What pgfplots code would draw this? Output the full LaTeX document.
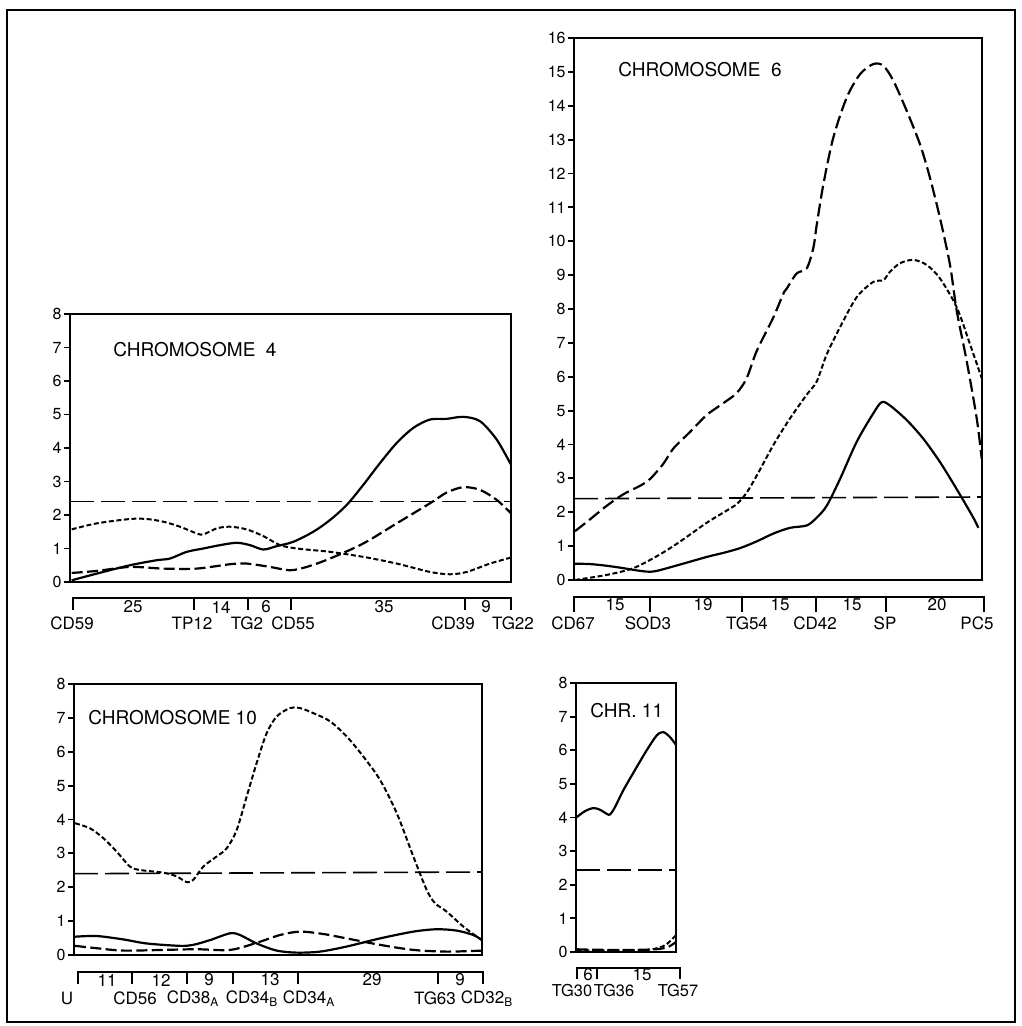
\documentclass[border=0pt]{standalone}
\usepackage{pgfplots}
\pgfplotsset{compat=1.18}
\usepackage{fontspec}
\setmainfont{TeX Gyre Heros}
\pgfplotsset{
 chr/.style={scale only axis, axis line style={line width=0.9pt}, ytick pos=left, ytick align=outside,
   xtick=\empty, major tick length=3pt, tick style={line width=0.9pt,black},
   yticklabel style={font=\fontsize{8}{9}\selectfont, inner sep=1pt},
   /pgf/number format/assume math mode=true, clip=false, ymin=0, anchor=south west},
 solidc/.style={black, line width=1.1pt, smooth, tension=0.5, mark=none},
 medc/.style={black, line width=1.1pt, dash pattern=on 5.5pt off 2.2pt, smooth, tension=0.5, mark=none},
 shortc/.style={black, line width=1pt, dash pattern=on 2.5pt off 1.3pt, smooth, tension=0.5, mark=none},
 thr/.style={black, line width=0.8pt, dash pattern=on 12pt off 3.5pt, mark=none},
}
\newcommand{\lab}{\fontsize{8.5}{10}\selectfont}
\newcommand{\ttl}{\fontsize{9.5}{11}\selectfont}
\begin{document}
\begin{tikzpicture}
\useasboundingbox (0,0) rectangle (510.5pt,513pt);
% ---------- Chromosome 4 ----------
\begin{axis}[chr, at={(35pt,222pt)}, width=220.5pt, height=134pt, xmin=70, xmax=511, ymax=8, ytick={0,1,...,8}]
\addplot[thr] coordinates {(70,2.4) (511,2.4)};
\addplot[solidc] coordinates {(71.7,0.05) (96.7,0.25) (130,0.5) (156.7,0.65) (170,0.7) (186.7,0.9) (203.3,1.0) (220,1.1) (236.7,1.17) (250,1.1) (263.3,0.97) (276.7,1.07) (293.3,1.2) (313.3,1.5) (330,1.85) (346.7,2.3) (363.3,2.9) (380,3.55) (396.7,4.15) (413.3,4.6) (430,4.85) (446.7,4.87) (463.3,4.93) (480,4.8) (496.7,4.25) (511,3.5)};
\addplot[shortc] coordinates {(71.7,1.57) (96.7,1.75) (130,1.88) (146.7,1.88) (163.3,1.8) (180,1.65) (196.7,1.45) (203.3,1.42) (216.7,1.6) (230,1.65) (246.7,1.57) (263.3,1.37) (280,1.1) (296.7,1.0) (313.3,0.95) (330,0.9) (363.3,0.75) (396.7,0.55) (430,0.3) (450,0.23) (466.7,0.3) (490,0.55) (511,0.73)};
\addplot[medc] coordinates {(71.7,0.27) (96.7,0.33) (130,0.45) (163.3,0.4) (196.7,0.4) (230,0.53) (246.7,0.55) (270,0.45) (290,0.35) (306.7,0.45) (330,0.7) (363.3,1.15) (396.7,1.75) (430,2.35) (446.7,2.67) (463.3,2.83) (480,2.75) (496.7,2.45) (511,2.05)};
\end{axis}
% ---------- Chromosome 6 ----------
\begin{axis}[chr, at={(287pt,223pt)}, width=204pt, height=271pt, xmin=574, xmax=982, ymax=16, ytick={0,1,...,16}]
\addplot[thr] coordinates {(574,2.4) (982,2.45)};
\addplot[solidc] coordinates {(575,0.48) (590,0.47) (606.7,0.42) (623.3,0.35) (640,0.27) (653.3,0.25) (673.3,0.4) (706.7,0.68) (723.3,0.8) (740,0.94) (756.7,1.14) (773.3,1.37) (790,1.54) (806.7,1.61) (816.7,1.84) (826.7,2.19) (840,2.98) (856.7,4.08) (873.3,4.92) (881.7,5.25) (890,5.15) (906.7,4.72) (923.3,4.17) (940,3.48) (956.7,2.68) (973.3,1.84) (978.3,1.54)};
\addplot[shortc] coordinates {(575,0) (606.7,0.15) (633.3,0.35) (656.7,0.7) (673.3,1.0) (690,1.34) (706.7,1.69) (723.3,1.99) (736.7,2.24) (746.7,2.58) (756.7,3.08) (773.3,3.98) (790,4.77) (806.7,5.47) (816.7,5.86) (826.7,6.66) (840,7.46) (856.7,8.35) (873.3,8.8) (883.3,8.85) (890,9.1) (900,9.35) (913.3,9.45) (926.7,9.3) (940,8.9) (956.7,8.05) (970,6.96) (981.7,5.96)};
\addplot[medc, dash pattern=on 6.5pt off 2.5pt] coordinates {(575,1.44) (590,1.79) (606.7,2.19) (623.3,2.53) (640,2.78) (650,2.98) (663.3,3.43) (673.3,3.88) (690,4.37) (706.7,4.87) (723.3,5.22) (736.7,5.52) (746.7,5.96) (756.7,6.76) (773.3,7.75) (783.3,8.45) (786.7,8.6) (796.7,9.05) (806.7,9.2) (813.3,9.8) (816.7,10.48) (823.3,11.67) (833.3,13.06) (846.7,14.24) (860,14.93) (873.3,15.23) (883.3,15.18) (893.3,14.74) (906.7,13.85) (920,12.86) (930,11.87) (940,10.68) (950,9.3) (956.7,7.95) (966.7,6.46) (976.7,4.77) (981.7,3.58)};
\end{axis}
% ---------- Chromosome 10 ----------
\begin{axis}[chr, at={(37pt,35.5pt)}, width=204pt, height=135.5pt, xmin=74, xmax=482, ymax=8, ytick={0,1,...,8}]
\addplot[thr] coordinates {(74,2.4) (482,2.45)};
\addplot[shortc] coordinates {(75,3.89) (90,3.74) (103.3,3.45) (116.7,3.05) (130,2.61) (140,2.51) (163.3,2.43) (176.7,2.32) (186.7,2.15) (193.3,2.22) (203.3,2.61) (216.7,2.91) (226.7,3.15) (236.7,3.69) (246.7,4.68) (256.7,5.67) (266.7,6.55) (276.7,7.04) (290,7.29) (300,7.29) (313.3,7.14) (330,6.9) (346.7,6.45) (363.3,5.86) (380,5.17) (396.7,4.19) (413.3,2.91) (426.7,1.92) (435,1.53) (446.7,1.28) (463.3,0.84) (481.7,0.44)};
\addplot[solidc] coordinates {(75,0.54) (96.7,0.56) (123.3,0.46) (146.7,0.34) (180,0.27) (193.3,0.3) (210,0.44) (230,0.64) (240,0.59) (256.7,0.34) (276.7,0.13) (296.7,0.07) (320,0.1) (346.7,0.25) (380,0.49) (413.3,0.69) (436.7,0.76) (456.7,0.72) (473.3,0.59) (482,0.44)};
\addplot[medc] coordinates {(75,0.27) (96.7,0.2) (123.3,0.13) (163.3,0.15) (196.7,0.17) (230,0.15) (256.7,0.36) (280,0.59) (300,0.69) (323.3,0.62) (346.7,0.49) (380,0.3) (413.3,0.15) (446.7,0.1) (482,0.13)};
\end{axis}
% ---------- Chromosome 11 ----------
\begin{axis}[chr, at={(288pt,37pt)}, width=50pt, height=134.5pt, xmin=576, xmax=676, ymax=8, ytick={0,1,...,8}]
\addplot[thr] coordinates {(576,2.43) (676,2.43)};
\addplot[solidc] coordinates {(576.7,4.01) (585,4.19) (593.3,4.28) (600,4.23) (606.7,4.11) (610,4.09) (615,4.31) (623.3,4.81) (636.7,5.5) (646.7,6.0) (656.7,6.44) (663.3,6.54) (670,6.39) (675.7,6.17)};
\addplot[shortc] coordinates {(576.7,0.05) (600,0.05) (630,0.05) (650,0.07) (665,0.2) (676,0.5)};
\addplot[medc] coordinates {(576.7,0.08) (620,0.06) (655,0.08) (668,0.15) (676,0.3)};
\end{axis}
% ---------- annotations in reference pixel units ----------
\begin{scope}[x=0.5pt, y=-0.5pt, shift={(0,513pt)}]
\draw[line width=1pt] (7,10) rectangle (1015,1022);
% titles
\node[anchor=west, inner sep=0pt, font=\ttl] at (113,350) {CHROMOSOME\ \ 4};
\node[anchor=west, inner sep=0pt, font=\ttl] at (618,70) {CHROMOSOME\ \ 6};
\node[anchor=west, inner sep=0pt, font=\ttl] at (88,718) {CHROMOSOME\ 10};
\node[anchor=west, inner sep=0pt, font=\ttl] at (590,711) {CHR.\ 11};
% chr4 scale
\draw[line width=0.9pt] (73,610) -- (73,598) -- (511,598) -- (511,610);
\foreach \t in {194,248,291,465} \draw[line width=0.9pt] (\t,598) -- (\t,610);
\foreach \x/\l in {133/25,221/14,266/6,384/35,486/9} \node[font=\lab, inner sep=0pt] at (\x,607) {\l};
\foreach \x/\l in {72/CD59,192/TP12,247/TG2,293/CD55,453/CD39,513/TG22} \node[font=\lab, inner sep=0pt] at (\x,623) {\l};
% chr6 scale
\draw[line width=0.9pt] (574,612) -- (574,597) -- (984,597) -- (984,612);
\foreach \t in {650,742,816,886} \draw[line width=0.9pt] (\t,597) -- (\t,612);
\foreach \x/\l in {615/15,703/19,780/15,852/15,937/20} \node[font=\lab, inner sep=0pt] at (\x,605) {\l};
\foreach \x/\l in {573/CD67,648/SOD3,747/TG54,815/CD42,885/SP,977/PC5} \node[font=\lab, inner sep=0pt] at (\x,623) {\l};
% chr10 scale
\draw[line width=0.9pt] (78,984) -- (78,972) -- (483,972) -- (483,984);
\foreach \t in {132,187,233,298,438} \draw[line width=0.9pt] (\t,972) -- (\t,984);
\foreach \x/\l in {107/11,161/12,209/9,270/13,372/29,460/9} \node[font=\lab, inner sep=0pt] at (\x,980) {\l};
\node[font=\lab, inner sep=0pt] at (67,998) {U};
\node[font=\lab, inner sep=0pt] at (135,998) {CD56};
\node[font=\lab, inner sep=0pt] at (193,999) {CD38\textsubscript{A}};
\node[font=\lab, inner sep=0pt] at (252,999) {CD34\textsubscript{B}};
\node[font=\lab, inner sep=0pt] at (309,999) {CD34\textsubscript{A}};
\node[font=\lab, inner sep=0pt] at (435,998) {TG63};
\node[font=\lab, inner sep=0pt] at (487,999) {CD32\textsubscript{B}};
% chr11 scale
\draw[line width=0.9pt] (577,979) -- (577,968) -- (680,968) -- (680,979);
\draw[line width=0.9pt] (597,968) -- (597,979);
\node[font=\lab, inner sep=0pt] at (588,975) {6};
\node[font=\lab, inner sep=0pt] at (642,975) {15};
\node[font=\fontsize{8.2}{9}\selectfont, inner sep=0pt] at (572,991) {TG30};
\node[font=\fontsize{8.2}{9}\selectfont, inner sep=0pt] at (614,991) {TG36};
\node[font=\fontsize{8.2}{9}\selectfont, inner sep=0pt] at (678,991) {TG57};
\end{scope}
\end{tikzpicture}
\end{document}
